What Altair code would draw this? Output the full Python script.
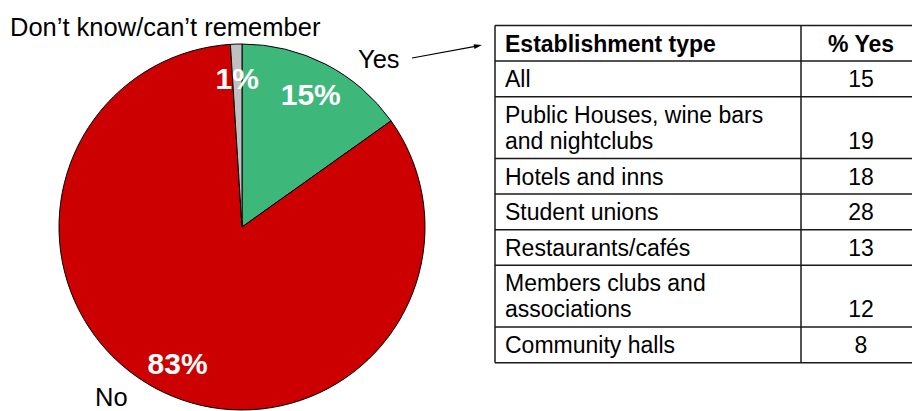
import altair as alt
import pandas as pd

# Survey answers for the pie
answers = ["Yes", "No", "Don\u2019t know/can\u2019t remember"]
shares = [15, 83, 1]
answer_colors = ["#3DB87A", "#CC0000", "#C0C0C0"]

# Table of "% Yes" by establishment type
table_header = ["Establishment type", "% Yes"]
establishments = [
    "All",
    "Public Houses, wine bars\nand nightclubs",
    "Hotels and inns",
    "Student unions",
    "Restaurants/caf\u00e9s",
    "Members clubs and\nassociations",
    "Community halls",
]
pct_yes = [15, 19, 18, 28, 13, 12, 8]

# ---- layout (pixels) ----
W, H = 912, 411
CX, CY, R = 242, 227, 183
FONT = "Liberation Sans"

# Outer category label anchors (left x, baseline y)
label_anchor = {
    "Yes": (358, 68),
    "No": (95, 406),
    "Don\u2019t know/can\u2019t remember": (10, 36),
}

# Table geometry
T_LEFT, T_DIV, T_RIGHT = 495, 801, 925
T_TOP = 25.5
NAME_X, VALUE_X = 505, 861
ROW_PAD, LINE_H = 9.4, 26.2
FIRST_BASE, LINE_STEP = 26, 25.8
TABLE_FONT_SIZE = 23

pie_df = pd.DataFrame({
    "answer": answers,
    "share": shares,
    "rank": list(range(len(answers))),
    "label": [f"{v}%" for v in shares],
})

theta = alt.Theta("share:Q", stack=True)
order = alt.Order("rank:Q")

arcs = alt.Chart(pie_df).mark_arc(
    radius=R, stroke="black", strokeWidth=1
).encode(
    theta=theta,
    order=order,
    color=alt.Color("answer:N",
                    scale=alt.Scale(domain=answers, range=answer_colors),
                    legend=None),
    x=alt.value(CX),
    y=alt.value(CY),
)

pct_labels = alt.Chart(pie_df).mark_text(
    radius=150, font=FONT, fontSize=30, fontWeight="bold",
    color="white", align="center", baseline="middle", dy=2.5,
).encode(
    theta=theta,
    order=order,
    text="label:N",
    x=alt.value(CX),
    y=alt.value(CY),
)

cat_df = pd.DataFrame({
    "answer": answers,
    "px": [label_anchor[a][0] for a in answers],
    "py": [label_anchor[a][1] for a in answers],
})
cat_labels = alt.Chart(cat_df).mark_text(
    font=FONT, fontSize=25.5, color="black", align="left", baseline="alphabetic"
).encode(
    x=alt.X("px:Q", scale=None),
    y=alt.Y("py:Q", scale=None),
    text="answer:N",
)

# Arrow from "Yes" towards the table
arrow_df = pd.DataFrame({"x": [412], "y": [58], "x2": [478], "y2": [45.8]})
arrow_line = alt.Chart(arrow_df).mark_rule(color="black", strokeWidth=1.2).encode(
    x=alt.X("x:Q", scale=None), y=alt.Y("y:Q", scale=None),
    x2="x2:Q", y2="y2:Q",
)
arrow_head = alt.Chart(arrow_df).mark_point(
    shape="M1,0L-1,-0.6L-1,0.6Z", filled=True, color="black",
    opacity=1, size=64, angle=349.5,
).encode(
    x=alt.X("x2:Q", scale=None), y=alt.Y("y2:Q", scale=None),
)

# ---- table ----
row_lines = [1] + [len(n.split("\n")) for n in establishments]
tops = [T_TOP]
for n in row_lines:
    tops.append(tops[-1] + ROW_PAD + LINE_H * n)

hrules = pd.DataFrame({"x": T_LEFT, "x2": T_RIGHT, "y": tops, "y2": tops})
vrules = pd.DataFrame({"x": [T_LEFT, T_DIV, T_RIGHT], "y": tops[0], "y2": tops[-1]})
vrules["x2"] = vrules["x"]
grid_df = pd.concat([hrules, vrules], ignore_index=True)
grid = alt.Chart(grid_df).mark_rule(color="#1a1a1a", strokeWidth=1.5).encode(
    x=alt.X("x:Q", scale=None), y=alt.Y("y:Q", scale=None),
    x2="x2:Q", y2="y2:Q",
)

name_rows, value_rows = [], []
for i, (name, val) in enumerate(zip(establishments, pct_yes)):
    top = tops[i + 1]
    parts = name.split("\n")
    for j, part in enumerate(parts):
        name_rows.append({"t": part, "px": NAME_X, "py": top + FIRST_BASE + j * LINE_STEP})
    value_rows.append({"t": str(val), "px": VALUE_X,
                       "py": top + FIRST_BASE + (len(parts) - 1) * LINE_STEP})

header_df = pd.DataFrame({
    "t": table_header,
    "px": [NAME_X, VALUE_X],
    "py": [tops[0] + FIRST_BASE] * 2,
    "al": ["left", "center"],
})

def table_text(df, align, bold=False):
    return alt.Chart(df).mark_text(
        font=FONT, fontSize=TABLE_FONT_SIZE, color="black", align=align,
        baseline="alphabetic", fontWeight="bold" if bold else "normal",
    ).encode(
        x=alt.X("px:Q", scale=None), y=alt.Y("py:Q", scale=None), text="t:N",
    )

header_left = table_text(header_df[header_df.al == "left"], "left", bold=True)
header_center = table_text(header_df[header_df.al == "center"], "center", bold=True)
names = table_text(pd.DataFrame(name_rows), "left")
values = table_text(pd.DataFrame(value_rows), "center")

chart = alt.layer(
    arcs, pct_labels, cat_labels, arrow_line, arrow_head,
    grid, header_left, header_center, names, values,
).properties(
    width=W, height=H, padding=0,
    autosize=alt.AutoSizeParams(type="none"),
    background="white",
).configure_view(stroke=None)

chart.save("out.html", embed_options={"renderer": "svg", "actions": False})
